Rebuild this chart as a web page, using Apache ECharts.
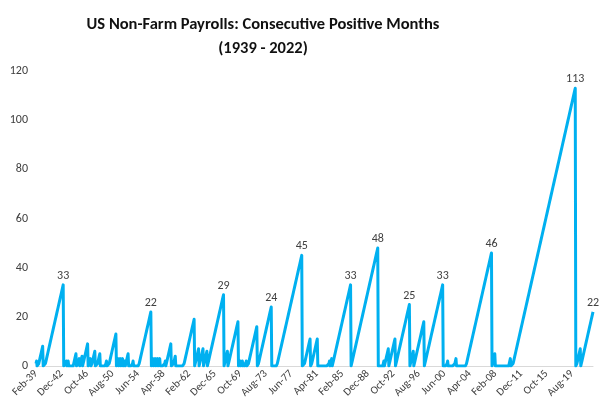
<!DOCTYPE html>
<html>
<head>
<meta charset="utf-8">
<script src="https://cdn.jsdelivr.net/npm/echarts@6/dist/echarts.min.js"></script>
<style>
html,body{margin:0;padding:0;background:#fff;}
#chart{width:609px;height:413px;}
</style>
</head>
<body>
<div id="chart"></div>
<script>
// ---- data ----
const titleLines = ['US Non-Farm Payrolls: Consecutive Positive Months', '(1939 - 2022)'];
const monthNames = ['Jan','Feb','Mar','Apr','May','Jun','Jul','Aug','Sep','Oct','Nov','Dec'];
const startYear = 1939;
const startMonth = 1; // Feb (0-based)
// months with no gain before each streak
const gaps = [0,3,4,4,1,9,3,1,1,2,2,4,10,4,1,1,1,2,1,7,10,1,1,1,1,8,1,4,15,1,1,1,1,1,1,2,2,2,2,3,2,10,4,2,20,1,1,1,9,1,1,1,1,1,1,7,12,18,1,25,4,2,1];
// length of each streak of consecutive positive months
const runs = [2,8,33,2,2,5,3,4,9,3,6,5,2,13,3,3,3,2,5,2,22,3,3,3,3,2,9,4,19,7,7,6,29,6,18,2,2,1,2,16,24,45,11,11,2,3,33,48,2,7,11,25,6,18,33,2,3,46,5,3,113,7,22];
const labelMinRun = 22;
const yTicks = [0, 20, 40, 60, 80, 100, 120];

// ---- build monthly series from the streak data ----
const values = [];
for (let i = 0; i < runs.length; i++) {
  for (let g = 0; g < gaps[i]; g++) values.push(0);
  for (let k = 1; k <= runs[i]; k++) {
    if (k === runs[i] && runs[i] >= labelMinRun) {
      values.push({value: k, label: {show: true}});
    } else {
      values.push(k);
    }
  }
}
const categories = values.map((_, i) => {
  const t = startMonth + i;
  const y = startYear + Math.floor(t / 12);
  return monthNames[t % 12] + '-' + String(y % 100).padStart(2, '0');
});

const FONT = 'Carlito, Lato, "Liberation Sans", sans-serif';
const chart = echarts.init(document.getElementById('chart'), null, {renderer: 'canvas'});
chart.setOption({
  animation: false,
  backgroundColor: '#ffffff',
  graphic: [
    {type: 'text', x: 263, y: 16, style: {text: titleLines[0], font: 'bold 16.5px ' + FONT, fill: '#111', textAlign: 'center'}},
    {type: 'text', x: 263, y: 40, style: {text: titleLines[1], font: 'bold 16.5px ' + FONT, fill: '#111', textAlign: 'center'}}
  ],
  grid: {left: 36, right: 16, top: 71, bottom: 47, containLabel: false},
  xAxis: {
    type: 'category',
    data: categories,
    boundaryGap: false,
    axisLine: {show: true, lineStyle: {color: '#d9d9d9', width: 1}},
    axisTick: {show: false},
    axisLabel: {interval: 45, rotate: 45, fontSize: 11, color: '#404040', fontFamily: FONT, margin: 6}
  },
  yAxis: {
    type: 'value',
    min: yTicks[0],
    max: yTicks[yTicks.length - 1],
    interval: yTicks[1] - yTicks[0],
    axisLine: {show: false},
    axisTick: {show: false},
    splitLine: {show: false},
    axisLabel: {fontSize: 12, color: '#404040', fontFamily: FONT, margin: 8}
  },
  series: [{
    type: 'line',
    data: values,
    showSymbol: true,
    showAllSymbol: true,
    symbol: 'circle',
    symbolSize: 0,
    lineStyle: {color: '#00B0F0', width: 3, join: 'round'},
    itemStyle: {color: '#00B0F0'},
    label: {show: false, position: 'top', distance: 3, fontSize: 12, color: '#404040', fontFamily: FONT},
    emphasis: {disabled: true}
  }]
});
</script>
</body>
</html>
